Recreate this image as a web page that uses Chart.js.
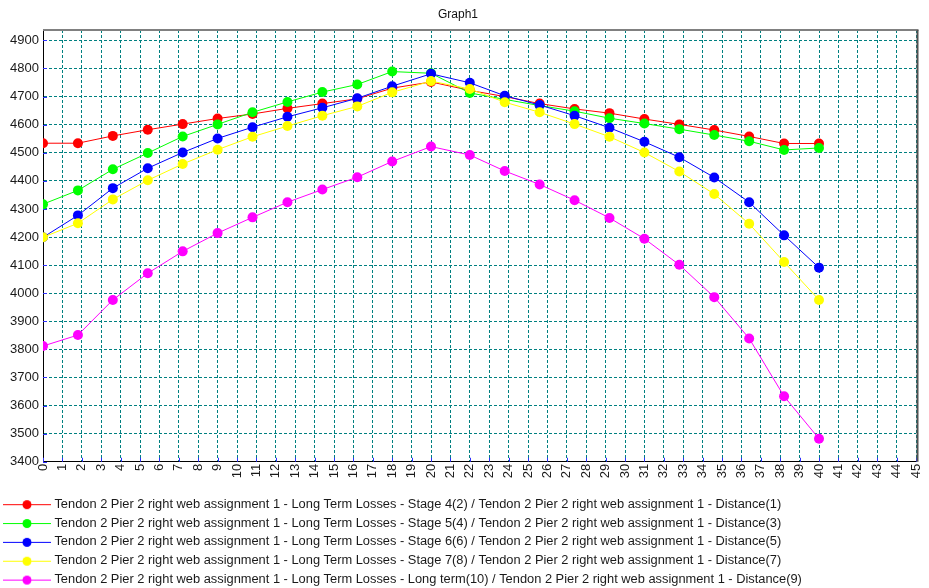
<!DOCTYPE html>
<html>
<head>
<meta charset="utf-8">
<script src="https://cdn.jsdelivr.net/npm/chart.js@4"></script>
<style>
  html, body { margin: 0; padding: 0; background: #fff; }
</style>
</head>
<body>
<canvas id="graph" width="929" height="588"></canvas>
<script>
// Distance stations (x) and values
const distances = [0, 1.8, 3.6, 5.4, 7.2, 9, 10.8, 12.6, 14.4, 16.2, 18, 20, 22, 23.8, 25.6, 27.4, 29.2, 31, 32.8, 34.6, 36.4, 38.2, 40];

const stage4 = [4534, 4534, 4560, 4582, 4602, 4622, 4638, 4658, 4675, 4692, 4730, 4752, 4722, 4700, 4675, 4656, 4641, 4620, 4601, 4581, 4558, 4533, 4533];
const stage5 = [4317, 4366, 4441, 4499, 4558, 4601, 4644, 4681, 4716, 4743, 4789, 4783, 4713, 4690, 4668, 4648, 4623, 4604, 4584, 4563, 4541, 4510, 4517];
const stage6 = [4199, 4277, 4374, 4445, 4501, 4551, 4591, 4628, 4660, 4694, 4737, 4781, 4749, 4703, 4670, 4632, 4589, 4539, 4484, 4412, 4324, 4206, 4091];
const stage7 = [4199, 4249, 4334, 4402, 4460, 4511, 4557, 4595, 4632, 4665, 4715, 4755, 4727, 4680, 4644, 4602, 4557, 4501, 4433, 4353, 4247, 4111, 3976];
const longTerm = [3812, 3851, 3976, 4071, 4149, 4214, 4270, 4324, 4369, 4413, 4469, 4522, 4492, 4435, 4387, 4331, 4268, 4194, 4101, 3986, 3839, 3633, 3482];

const seriesNames = [
  "Tendon 2 Pier 2 right web assignment 1 - Long Term Losses - Stage 4(2) / Tendon 2 Pier 2 right web assignment 1 - Distance(1)",
  "Tendon 2 Pier 2 right web assignment 1 - Long Term Losses - Stage 5(4) / Tendon 2 Pier 2 right web assignment 1 - Distance(3)",
  "Tendon 2 Pier 2 right web assignment 1 - Long Term Losses - Stage 6(6) / Tendon 2 Pier 2 right web assignment 1 - Distance(5)",
  "Tendon 2 Pier 2 right web assignment 1 - Long Term Losses - Stage 7(8) / Tendon 2 Pier 2 right web assignment 1 - Distance(7)",
  "Tendon 2 Pier 2 right web assignment 1 - Long Term Losses - Long term(10) / Tendon 2 Pier 2 right web assignment 1 - Distance(9)"
];
const seriesValues = [stage4, stage5, stage6, stage7, longTerm];
const seriesColors = ["#ff0000", "#00ff00", "#0000ff", "#ffff00", "#ff00ff"];

const xMin = 0, xMax = 45, xStep = 1;
const yMin = 3400, yMax = 4937, yStep = 100;

const FONT = "'Liberation Sans', Arial, sans-serif";

// legend marker: short line with a dot in the middle
function makeMarker(color) {
  const c = document.createElement("canvas");
  c.width = 54; c.height = 12;
  const g = c.getContext("2d");
  g.strokeStyle = color;
  g.lineWidth = 1;
  g.beginPath();
  g.moveTo(3, 6.5);
  g.lineTo(51, 6.5);
  g.stroke();
  g.fillStyle = color;
  g.beginPath();
  g.arc(27, 6.5, 4.5, 0, Math.PI * 2);
  g.fill();
  return c;
}
const markers = seriesColors.map(makeMarker);

// top/right frame and the small blue ticks inside the plot
const framePlugin = {
  id: "frame",
  beforeDatasetsDraw(chart) {
    const { ctx, chartArea: a, scales } = chart;
    ctx.save();
    ctx.strokeStyle = "#3030ff";
    ctx.lineWidth = 1;
    ctx.beginPath();
    scales.y.ticks.forEach(t => {
      const py = Math.round(scales.y.getPixelForValue(t.value)) + 0.5;
      ctx.moveTo(a.left, py); ctx.lineTo(a.left + 4, py);
    });
    scales.x.ticks.forEach(t => {
      const px = Math.round(scales.x.getPixelForValue(t.value)) + 0.5;
      ctx.moveTo(px, a.bottom); ctx.lineTo(px, a.bottom - 4);
    });
    ctx.stroke();
    ctx.lineWidth = 2;
    ctx.strokeStyle = "#808080";
    ctx.beginPath();
    ctx.moveTo(a.left, a.top);
    ctx.lineTo(a.right + 2.5, a.top);
    ctx.stroke();
    ctx.strokeStyle = "#505050";
    ctx.beginPath();
    ctx.moveTo(a.right + 1.5, a.top);
    ctx.lineTo(a.right + 1.5, a.bottom);
    ctx.stroke();
    ctx.restore();
  }
};

const datasets = seriesValues.map((vals, i) => ({
  label: seriesNames[i],
  data: distances.map((d, k) => ({ x: d, y: vals[k] })),
  borderColor: seriesColors[i],
  backgroundColor: seriesColors[i],
  borderWidth: 1,
  pointRadius: 5,
  pointBorderWidth: 0,
  pointBackgroundColor: seriesColors[i],
  tension: 0,
  order: seriesValues.length - i
}));

new Chart(document.getElementById("graph"), {
  type: "line",
  data: { datasets },
  plugins: [framePlugin],
  options: {
    responsive: false,
    animation: false,
    layout: { padding: { left: 0, right: 13, top: 0, bottom: -8 } },
    scales: {
      x: {
        type: "linear",
        min: xMin,
        max: xMax,
        bounds: "data",
        afterFit: s => { s.height = 30; s.paddingRight = 0; s.paddingLeft = 0; },
        ticks: {
          stepSize: xStep,
          autoSkip: false,
          maxRotation: 90,
          minRotation: 90,
          padding: 2,
          color: "#1a1a1a",
          font: { family: FONT, size: 13 },
          callback: v => String(v)
        },
        grid: { color: "#008080", drawTicks: false, lineWidth: 1 },
        border: { color: "#000", width: 1, dash: [3, 2] }
      },
      y: {
        type: "linear",
        min: yMin,
        max: yMax,
        bounds: "data",
        afterFit: s => { s.width = 43; },
        afterBuildTicks: s => { s.ticks = s.ticks.filter(t => t.value % yStep === 0); },
        ticks: {
          stepSize: yStep,
          padding: 4,
          color: "#1a1a1a",
          font: { family: FONT, size: 13 },
          callback: v => String(v)
        },
        grid: { color: "#008080", drawTicks: false, lineWidth: 1 },
        border: { color: "#000", width: 1, dash: [3, 2] }
      }
    },
    plugins: {
      title: {
        display: true,
        text: "Graph1",
        color: "#111",
        font: { family: FONT, size: 12, weight: "normal" },
        padding: { top: 7, bottom: 8.6 }
      },
      legend: {
        position: "bottom",
        align: "start",
        labels: {
          usePointStyle: true,
          pointStyleWidth: 42,
          padding: 6,
          color: "#1a1a1a",
          font: { family: FONT, size: 12.85 },
          generateLabels: chart => chart.data.datasets.map((ds, i) => ({
            text: ds.label,
            pointStyle: markers[i],
            datasetIndex: i,
            hidden: false,
            fontColor: "#1a1a1a",
            fillStyle: ds.borderColor,
            strokeStyle: ds.borderColor,
            lineWidth: 0
          }))
        }
      },
      tooltip: { enabled: false }
    }
  }
});
</script>
</body>
</html>
